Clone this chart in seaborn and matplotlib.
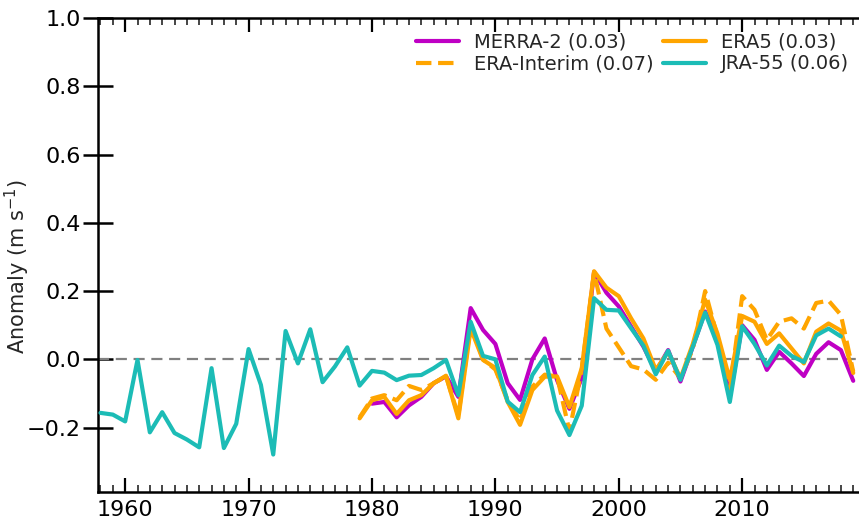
import numpy as np
import pandas as pd
import matplotlib
matplotlib.use("Agg")
import matplotlib.pyplot as plt
import seaborn as sns
from matplotlib.ticker import MultipleLocator

# annual anomalies (m s-1)
jra_years = list(range(1958, 2019))
jra55 = [-0.157, -0.162, -0.182, -0.002, -0.214, -0.155, -0.216, -0.235, -0.258, -0.026,
         -0.260, -0.189, 0.030, -0.075, -0.279, 0.083, -0.012, 0.088, -0.067, -0.021,
         0.035, -0.077, -0.034, -0.039, -0.061, -0.048, -0.046, -0.026, -0.002, -0.105,
         0.110, 0.010, 0.000, -0.124, -0.155, -0.046, 0.008, -0.150, -0.222, -0.136,
         0.179, 0.145, 0.143, 0.091, 0.040, -0.044, 0.025, -0.060, 0.037, 0.137,
         0.042, -0.125, 0.097, 0.045, -0.018, 0.040, 0.010, -0.008, 0.070, 0.090,
         0.067]

era_years = list(range(1979, 2020))
era5 = [-0.173, -0.120, -0.110, -0.160, -0.120, -0.105, -0.070, -0.048, -0.173, 0.090,
        -0.002, -0.025, -0.125, -0.192, -0.090, -0.051, -0.050, -0.140, -0.026, 0.258,
        0.210, 0.185, 0.120, 0.061, -0.031, 0.022, -0.056, 0.045, 0.175, 0.075,
        -0.060, 0.127, 0.110, 0.045, 0.076, 0.032, -0.012, 0.081, 0.105, 0.084,
        -0.040]
erai = [-0.170, -0.115, -0.105, -0.120, -0.078, -0.090, -0.070, -0.050, -0.165, 0.100,
        0.000, -0.030, -0.120, -0.180, -0.080, -0.045, -0.050, -0.210, -0.030, 0.255,
        0.090, 0.035, -0.020, -0.030, -0.060, -0.010, -0.055, 0.030, 0.200, 0.065,
        -0.090, 0.185, 0.145, 0.057, 0.110, 0.120, 0.090, 0.165, 0.172, 0.130,
        -0.036]

merra_years = list(range(1980, 2020))
merra2 = [-0.130, -0.125, -0.170, -0.135, -0.110, -0.070, -0.050, -0.110, 0.150, 0.086,
          0.045, -0.070, -0.119, 0.000, 0.061, -0.061, -0.145, -0.055, 0.256, 0.195,
          0.155, 0.096, 0.037, -0.036, 0.027, -0.065, 0.037, 0.140, 0.066, -0.110,
          0.100, 0.057, -0.031, 0.022, -0.012, -0.049, 0.016, 0.050, 0.027, -0.063]

labels = ["MERRA-2 (0.03)", "ERA-Interim (0.07)", "ERA5 (0.03)", "JRA-55 (0.06)"]
colors = ["#bf00c4", "#ffa500", "#ffa500", "#1cbcb6"]
styles = ["-", "--", "-", "-"]

series = [(merra_years, merra2), (era_years, erai), (era_years, era5), (jra_years, jra55)]

sns.set_theme(style="ticks")
plt.rcParams["font.family"] = ["DejaVu Sans"]

fig = plt.figure(figsize=(8.59, 5.22), dpi=100)
ax = fig.add_axes([0.1141, 0.058, 0.8878, 0.9075])

ax.axhline(0, color="#808080", lw=1.6, ls=(0, (5, 3)), zorder=1)

for (yrs, vals), lab, col, st in zip(series, labels, colors, styles):
    df = pd.DataFrame({"year": yrs, "anom": vals})
    sns.lineplot(data=df, x="year", y="anom", color=col, lw=3.0, ls=st,
                 label=lab, ax=ax, zorder=3)

ax.set_xlim(1957.8, 2019.6)
ax.set_ylim(-0.388, 1.0)
ax.xaxis.set_major_locator(MultipleLocator(10))
ax.xaxis.set_minor_locator(MultipleLocator(1))
yt = np.round(np.arange(-0.2, 1.01, 0.2), 1)
ax.set_yticks(yt)
ax.set_yticklabels([f"{v:.1f}".replace("-", "\u2212") for v in yt])

ax.set_xlabel("")
ax.set_ylabel("Anomaly (m s$^{-1}$)", fontsize=15)
ax.yaxis.set_label_coords(-0.086, 0.476)

for side in ["left", "bottom", "top"]:
    ax.spines[side].set_linewidth(1.8)
    ax.spines[side].set_color("black")
ax.spines["right"].set_visible(False)

ax.tick_params(axis="x", which="major", direction="in", top=True, bottom=True,
               length=10, width=1.6, labelsize=16, pad=6, colors="black")
ax.tick_params(axis="x", which="minor", direction="in", top=True, bottom=True,
               length=5, width=1.2)
ax.tick_params(axis="y", which="major", direction="inout", left=True, right=False,
               length=21, width=1.8, labelsize=16, pad=2, colors="black")

ax.legend(ncol=2, loc="upper left", bbox_to_anchor=(0.407, 0.986), frameon=False,
          fontsize=14, handlelength=2.2, handletextpad=0.77, columnspacing=0.5,
          labelspacing=0.15, borderaxespad=0)

fig.savefig("out.png", dpi=100)
